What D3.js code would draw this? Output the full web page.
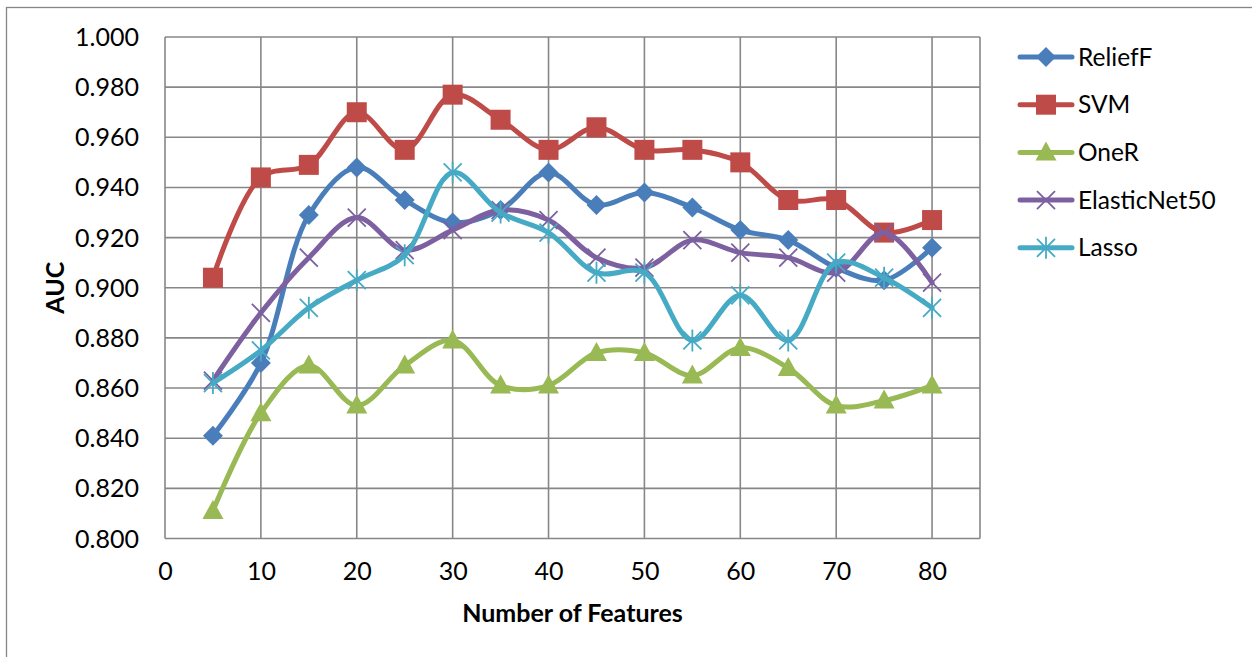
<!DOCTYPE html>
<html><head><meta charset="utf-8">
<script src="https://cdn.jsdelivr.net/npm/d3@7"></script>
<style>html,body{margin:0;padding:0;background:#fff;}svg{display:block;}</style>
</head><body>
<svg id="chart" width="1252" height="657"></svg>
<script>
const features = [5,10,15,20,25,30,35,40,45,50,55,60,65,70,75,80];
const reliefF = [0.841,0.870,0.929,0.948,0.935,0.926,0.931,0.946,0.933,0.938,0.932,0.923,0.919,0.908,0.903,0.916];
const svm = [0.904,0.944,0.949,0.970,0.955,0.977,0.967,0.955,0.964,0.955,0.955,0.950,0.935,0.935,0.922,0.927];
const oneR = [0.811,0.850,0.869,0.853,0.869,0.879,0.861,0.861,0.874,0.874,0.865,0.876,0.868,0.853,0.855,0.861];
const elasticNet50 = [0.863,0.890,0.912,0.928,0.915,0.923,0.931,0.927,0.912,0.908,0.919,0.914,0.912,0.906,0.922,0.902];
const lasso = [0.862,0.875,0.892,0.903,0.913,0.946,0.930,0.922,0.906,0.906,0.879,0.897,0.879,0.910,0.904,0.892];
const seriesNames = ["ReliefF","SVM","OneR","ElasticNet50","Lasso"];
const seriesColors = ["#4A7EBB","#BE4B48","#98B954","#7D60A0","#46AAC5"];
const seriesMarkers = ["diamond","square","triangle","x","star"];
const xTicks = [0,10,20,30,40,50,60,70,80];
const yTicks = [0.80,0.82,0.84,0.86,0.88,0.90,0.92,0.94,0.96,0.98,1.00];

const seriesValues = [reliefF, svm, oneR, elasticNet50, lasso];
const FONT = "Lato, 'Open Sans', sans-serif";
const svg = d3.select("#chart");

// chart area border
svg.append("rect").attr("x",6.5).attr("y",7.5).attr("width",1300).attr("height",700)
  .attr("fill","#fff").attr("stroke","#868686").attr("stroke-width",1.3);

const L=165, R=980, T=37, B=538.5;
const x = d3.scaleLinear().domain([0,85]).range([L,R]);
const y = d3.scaleLinear().domain([0.8,1.0]).range([B,T]);

const grid = svg.append("g");
yTicks.forEach(v=>{
  grid.append("line").attr("x1",L).attr("x2",R).attr("y1",y(v)).attr("y2",y(v))
    .attr("stroke","#878787").attr("stroke-width",1.6);
});
xTicks.forEach(v=>{
  grid.append("line").attr("x1",x(v)).attr("x2",x(v)).attr("y1",T).attr("y2",B)
    .attr("stroke","#878787").attr("stroke-width",1.6);
});
grid.append("line").attr("x1",R).attr("x2",R).attr("y1",T).attr("y2",B).attr("stroke","#878787").attr("stroke-width",1.6);

// axes labels via d3 axes
const yAxis = d3.axisLeft(y).tickValues(yTicks).tickFormat(d3.format(".3f")).tickSize(0).tickPadding(26);
const gy = svg.append("g").attr("transform",`translate(${L},0)`).call(yAxis);
gy.select(".domain").remove();
gy.selectAll("text").attr("font-family",FONT).attr("font-size",25).attr("fill","#000").attr("dy","0.34em");

const xAxis = d3.axisBottom(x).tickValues(xTicks).tickFormat(d3.format("d")).tickSize(0).tickPadding(24);
const gx = svg.append("g").attr("transform",`translate(0,${B})`).call(xAxis);
gx.select(".domain").remove();
gx.selectAll("text").attr("font-family",FONT).attr("font-size",25).attr("fill","#000");

svg.append("text").attr("x",(L+R)/2).attr("y",622).attr("text-anchor","middle")
  .attr("font-family",FONT).attr("font-weight","bold").attr("font-size",25).text("Number of Features");
svg.append("text").attr("transform",`translate(64,${(T+B)/2}) rotate(-90)`).attr("text-anchor","middle")
  .attr("font-family",FONT).attr("font-weight","bold").attr("font-size",25).text("AUC");

function markerPath(type){
  switch(type){
    case "diamond": return "M0,-10L10,0L0,10L-10,0Z";
    case "square": return "M-10,-10H10V10H-10Z";
    case "triangle": return "M0,-11L10.5,8H-10.5Z";
    case "x": return "M-9,-9L9,9M-9,9L9,-9";
    case "star": return "M-9,-9L9,9M-9,9L9,-9M0,-11V11";
  }
}
function drawMarker(g, type, color, cx, cy){
  const filled = (type==="diamond"||type==="square"||type==="triangle");
  g.append("path").attr("d",markerPath(type)).attr("transform",`translate(${cx},${cy})`)
    .attr("fill",filled?color:"none").attr("stroke",color).attr("stroke-width",filled?0:1.8);
}

const line = d3.line().x(d=>x(d[0])).y(d=>y(d[1])).curve(d3.curveCatmullRom.alpha(0.5));
seriesValues.forEach((vals,i)=>{
  const pts = features.map((f,j)=>[f,vals[j]]);
  const g = svg.append("g");
  g.append("path").attr("d",line(pts)).attr("fill","none").attr("stroke",seriesColors[i])
    .attr("stroke-width",5).attr("stroke-linejoin","round").attr("stroke-linecap","round");
  pts.forEach(p=>drawMarker(g, seriesMarkers[i], seriesColors[i], x(p[0]), y(p[1])));
});

// legend
const lg = svg.append("g");
seriesNames.forEach((n,i)=>{
  const cy = 57 + i*47.7;
  lg.append("line").attr("x1",1020).attr("x2",1072).attr("y1",cy).attr("y2",cy)
    .attr("stroke",seriesColors[i]).attr("stroke-width",5).attr("stroke-linecap","round");
  drawMarker(lg, seriesMarkers[i], seriesColors[i], 1046, cy);
  lg.append("text").attr("x",1078).attr("y",cy).attr("dy","0.35em").attr("font-family",FONT)
    .attr("font-size",24.5).attr("fill","#000").text(n);
});
</script>
</body></html>
